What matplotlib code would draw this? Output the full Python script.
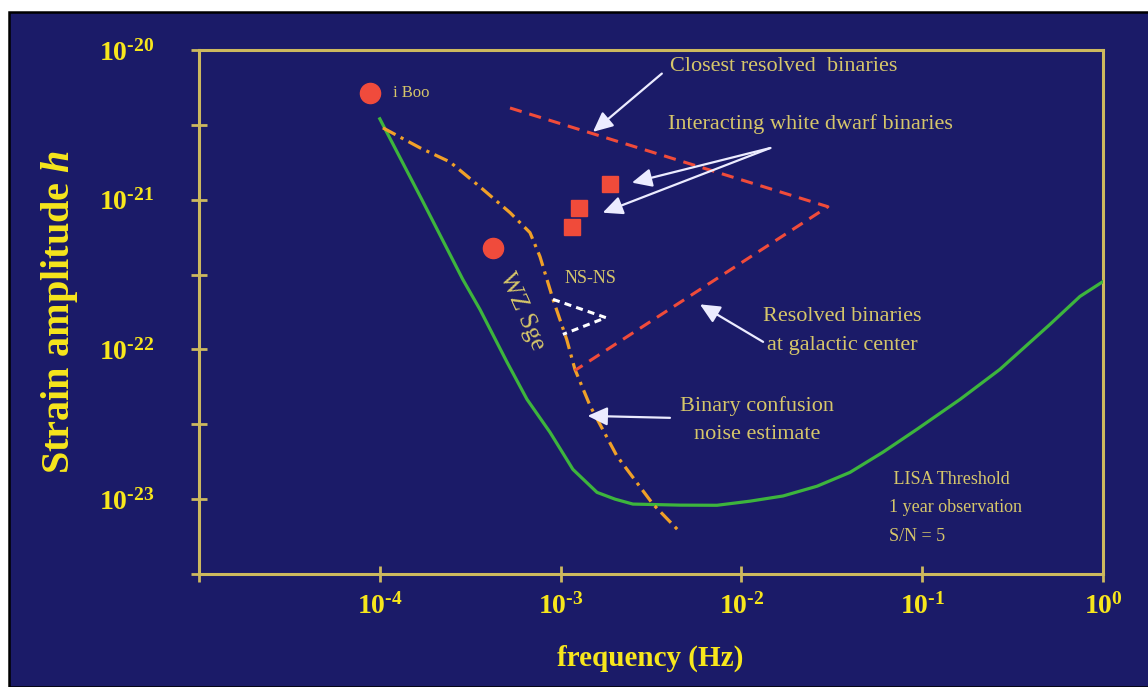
import numpy as np
import matplotlib
matplotlib.use("Agg")
import matplotlib.pyplot as plt
from matplotlib.patches import Rectangle
from matplotlib.ticker import FixedLocator, FixedFormatter, NullLocator

plt.rcParams['font.family'] = ['Liberation Serif', 'DejaVu Serif']
plt.rcParams['mathtext.fontset'] = 'custom'
plt.rcParams['mathtext.rm'] = 'Liberation Serif:bold'
plt.rcParams['mathtext.it'] = 'Liberation Serif:bold:italic'
plt.rcParams['mathtext.bf'] = 'Liberation Serif:bold'

# LISA sensitivity (1 yr, S/N=5)
lisa_f = [1.0e-4, 1.71e-4, 2.88e-4, 3.58e-4, 5.06e-4, 6.52e-4, 8.73e-4, 1.17e-3, 1.59e-3,
          2.0e-3, 2.51e-3, 4.57e-3, 7.33e-3, 1.12e-2, 1.70e-2, 2.62e-2, 3.99e-2, 6.07e-2,
          9.36e-2, 0.162, 0.269, 0.509, 0.746, 1.0]
lisa_h = [3.47e-21, 1.0e-21, 2.93e-22, 1.85e-22, 8.2e-23, 4.64e-23, 2.8e-23, 1.58e-23, 1.11e-23,
          1.0e-23, 9.27e-24, 9.12e-24, 9.1e-24, 9.7e-24, 1.05e-23, 1.22e-23, 1.51e-23, 2.06e-23,
          2.93e-23, 4.64e-23, 7.36e-23, 1.47e-22, 2.26e-22, 2.84e-22]

# binary confusion noise estimate
conf_f = [1.04e-4, 1.67e-4, 2.44e-4, 3.58e-4, 5.25e-4, 6.77e-4, 7.69e-4, 9.08e-4,
          1.08e-3, 1.20e-3, 1.46e-3, 2.05e-3, 3.24e-3, 4.57e-3]
conf_h = [3.02e-21, 2.22e-21, 1.79e-21, 1.22e-21, 8.2e-22, 6.03e-22, 4.17e-22, 2.16e-22,
          1.17e-22, 7.36e-23, 4.17e-23, 1.94e-23, 9.27e-24, 6.03e-24]

# resolved binaries wedge
res_f = [5.25e-4, 3.01e-2, 1.20e-3]
res_h = [4.1e-21, 8.98e-22, 7.24e-23]

# NS-NS wedge
ns_f = [9.08e-4, 1.78e-3, 1.03e-3]
ns_h = [2.16e-22, 1.63e-22, 1.26e-22]

# known sources
circ_f = [8.83e-5, 4.23e-4]   # i Boo, WZ Sge
circ_h = [5.17e-21, 4.79e-22]
sq_f = [1.87e-3, 1.26e-3, 1.16e-3]
sq_h = [1.28e-21, 8.85e-22, 6.6e-22]

xticks = [1e-5, 1e-4, 1e-3, 1e-2, 1e-1, 1e0]
xlabels = ['', r'$10^{\text{-}4}$', r'$10^{\text{-}3}$', r'$10^{\text{-}2}$',
           r'$10^{\text{-}1}$', r'$10^{0}$']
yticks = [1e-23, 1e-22, 1e-21, 1e-20]
ylabels = [r'$10^{\text{-}23}$', r'$10^{\text{-}22}$', r'$10^{\text{-}21}$', r'$10^{\text{-}20}$']
yminor = [10**-23.5, 10**-22.5, 10**-21.5, 10**-20.5]

navy = '#1b1b68'
axcol = '#cdb95e'
yel = '#f7e61c'
khaki = '#d6c66a'
arrow_col = '#ececff'

fig = plt.figure(figsize=(11.48, 6.87), dpi=100, facecolor='white')
fig.patches.append(Rectangle((8.5/1148, 0), 1.01, (687-12)/687, transform=fig.transFigure,
                             facecolor=navy, edgecolor='black', lw=1.8, zorder=-10))

ax = fig.add_axes([199/1148, 113/687, 904/1148, 524/687])
ax.set_facecolor(navy)
ax.set_xscale('log')
ax.set_yscale('log')
ax.set_xlim(1e-5, 1e0)
ax.set_ylim(10**-23.5, 1e-20)

for s in ax.spines.values():
    s.set_color(axcol)
    s.set_linewidth(2.2)

ax.xaxis.set_major_locator(FixedLocator(xticks))
ax.xaxis.set_major_formatter(FixedFormatter(xlabels))
ax.xaxis.set_minor_locator(NullLocator())
ax.yaxis.set_major_locator(FixedLocator(yticks))
ax.yaxis.set_major_formatter(FixedFormatter(ylabels))
ax.yaxis.set_minor_locator(FixedLocator(yminor))
ax.tick_params(which='both', direction='inout', length=11, width=2, color=axcol,
               labelcolor=yel, labelsize=20)
ax.tick_params(axis='x', pad=8)
ax.tick_params(axis='y', pad=27)

ax.set_xlabel('frequency (Hz)', fontsize=21, fontweight='bold', color=yel)
ax.xaxis.set_label_coords((650-199)/904, (574-645)/524)
ax.set_ylabel(r'Strain amplitude $\mathit{h}$', fontsize=29, fontweight='bold', color=yel)
ax.yaxis.set_label_coords((80-199)/904, 0.5)

ax.plot(lisa_f, lisa_h, color='#3db53d', lw=2.3, zorder=3)
ax.plot(conf_f, conf_h, color='#f0a028', lw=2.3, dashes=(4.5, 1.8, 1, 1.8), zorder=3)
ax.plot(res_f, res_h, color='#f04b3a', lw=2.2, dashes=(4, 2.6), zorder=3)
ax.plot(ns_f, ns_h, color='white', lw=2.2, dashes=(2.3, 1.7), zorder=3)
ax.plot(circ_f, circ_h, 'o', color='#f04b3c', ms=14.5, zorder=4)
ax.plot(sq_f, sq_h, 's', color='#f04b3a', ms=11, zorder=4)

tk = dict(color=khaki, fontsize=16)
ax.text(0.2146, 0.918, 'i Boo', color=khaki, fontsize=12, va='center', transform=ax.transAxes)
ax.text(0.4325, 0.563, 'NS-NS', color=khaki, fontsize=13, ha='center', va='center',
        transform=ax.transAxes)
ax.text(0.357, 0.502, 'WZ Sge', color=khaki, fontsize=18, ha='center', va='center',
        rotation=-66, transform=ax.transAxes)
ax.text(0.521, 0.968, 'Closest resolved  binaries', ha='left', va='center',
        transform=ax.transAxes, **tk)
ax.text(0.519, 0.859, 'Interacting white dwarf binaries', ha='left', va='center',
        transform=ax.transAxes, **tk)
ax.text(0.712, 0.464, 'Resolved binaries\nat galactic center', ha='center', va='center',
        linespacing=1.75, transform=ax.transAxes, **tk)
ax.text(0.617, 0.294, 'Binary confusion\nnoise estimate', ha='center', va='center',
        linespacing=1.65, transform=ax.transAxes, **tk)
ax.text(0.763, 0.126, ' LISA Threshold\n1 year observation\nS/N = 5', color=khaki,
        fontsize=13, ha='left', va='center', linespacing=1.9, transform=ax.transAxes)

ap = dict(arrowstyle='-|>,head_length=0.6,head_width=0.28', color=arrow_col, lw=1.6,
          mutation_scale=20, shrinkA=0, shrinkB=0)
ax.annotate('', xy=(1.51e-3, 2.84e-21), xytext=(0.512, 0.955),
            textcoords='axes fraction', arrowprops=ap)
ax.annotate('', xy=(2.48e-3, 1.30e-21), xytext=(0.632, 0.813),
            textcoords='axes fraction', arrowprops=ap)
ax.annotate('', xy=(1.71e-3, 8.19e-22), xytext=(0.632, 0.813),
            textcoords='axes fraction', arrowprops=ap)
ax.annotate('', xy=(5.9e-3, 2.0e-22), xytext=(0.624, 0.443),
            textcoords='axes fraction', arrowprops=ap)
ax.annotate('', xy=(1.41e-3, 3.6e-23), xytext=(0.521, 0.298),
            textcoords='axes fraction', arrowprops=ap)

fig.savefig('out.png', dpi=100, facecolor=fig.get_facecolor())
